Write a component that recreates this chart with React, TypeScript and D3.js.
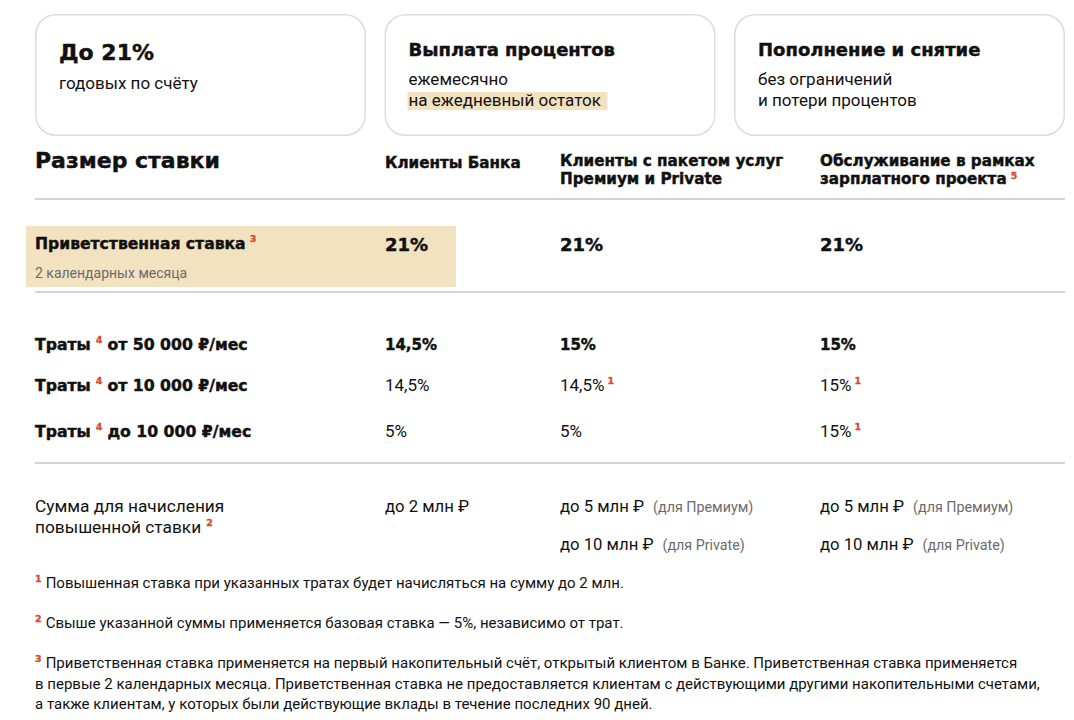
import * as d3 from 'd3'

// --- data ---------------------------------------------------------------
const cardTitles = ['До 21%', 'Выплата процентов', 'Пополнение и снятие']
const cardLines = [
  ['годовых по счёту'],
  ['ежемесячно', 'на ежедневный остаток'],
  ['без ограничений', 'и потери процентов'],
]
const cardMarked = [-1, 1, -1] // which line gets the beige marker

const columnKeys = ['label', 'bank', 'premium', 'salary']
const columnHeaders = [
  ['Клиенты Банка'],
  ['Клиенты с пакетом услуг', 'Премиум и Private'],
  ['Обслуживание в рамках', 'зарплатного проекта'],
]
const headerNotes = ['', '', '5']

const welcomeLabel = 'Приветственная ставка'
const welcomeNote = '3'
const welcomeTerm = '2 календарных месяца'
const welcomeRates = ['21%', '21%', '21%']

const spendPrefix = 'Траты'
const spendNote = '4'
const spendLabels = ['от 50 000 ₽/мес', 'от 10 000 ₽/мес', 'до 10 000 ₽/мес']
const spendRates = [
  ['14,5%', '15%', '15%'],
  ['14,5%', '14,5%', '15%'],
  ['5%', '5%', '15%'],
]
const spendNotes = [
  ['', '', ''],
  ['', '1', '1'],
  ['', '', '1'],
]

const sumLabel = ['Сумма для начисления', 'повышенной ставки']
const sumNote = '2'
const sumLimits = [
  [['до 2 млн ₽', '']],
  [['до 5 млн ₽', '(для Премиум)'], ['до 10 млн ₽', '(для Private)']],
  [['до 5 млн ₽', '(для Премиум)'], ['до 10 млн ₽', '(для Private)']],
]

const footnoteMarks = ['1', '2', '3']
const footnoteLines = [
  ['Повышенная ставка при указанных тратах будет начисляться на сумму до 2 млн.'],
  ['Свыше указанной суммы применяется базовая ставка — 5%, независимо от трат.'],
  [
    'Приветственная ставка применяется на первый накопительный счёт, открытый клиентом в Банке. Приветственная ставка применяется',
    'в первые 2 календарных месяца. Приветственная ставка не предоставляется клиентам с действующими другими накопительными счетами,',
    'а также клиентам, у которых были действующие вклады в течение последних 90 дней.',
  ],
]

// --- styles -------------------------------------------------------------
const W = 1074
const H = 720
const BOLD = '"DejaVu Sans", sans-serif'
const REG = 'Roboto, "Noto Sans", sans-serif'
const INK = '#111'
const GREY = '#6b6b6b'
const RED = '#d9482b'
const RULE = '#d4d4d4'
const MARK = '#f3e2c0'

// heavier look for the bold face
const heavy = { fontFamily: BOLD, fontWeight: 700, fill: INK, stroke: INK, strokeWidth: 0.45 }

const Sup = ({ t, dx = 0, dy = -7 }: { t: string; dx?: number; dy?: number }) =>
  t ? (
    <tspan dx={dx} dy={dy} fontSize={9.5} fontFamily={BOLD} fontWeight={700} fill={RED} stroke={RED} strokeWidth={0.3}>
      {t}
    </tspan>
  ) : null

export default function App() {
  // cards
  const cardX = d3.scaleBand<number>().domain(d3.range(3)).range([35, 1065]).paddingInner(0.053)

  // table columns
  const colX = d3.scaleOrdinal<string, number>().domain(columnKeys).range([35, 385, 560, 820])

  // row baselines
  const spendY = d3.scaleOrdinal<string, number>().domain(spendLabels).range([350, 391, 437])
  const sumY = d3.scalePoint<number>().domain([0, 1]).range([512, 550])
  const footY = d3.scaleOrdinal<number, number>().domain([0, 1, 2]).range([588, 628, 668])
  const lineStep = 20.5

  const rules = [199, 292, 463]

  return (
    <svg
      width={W}
      height={H}
      style={{ position: 'absolute', left: 0, top: 0, background: '#fff' }}
    >
      <rect width={W} height={H} fill="#fff" />

      {/* feature cards */}
      {cardTitles.map((title, i) => {
        const x = cardX(i) as number
        return (
          <g key={title}>
            <rect
              x={x + 0.75}
              y={14.75}
              width={cardX.bandwidth() - 1.5}
              height={120.5}
              rx={20}
              fill="#fff"
              stroke="#dcdcdc"
              strokeWidth={1.5}
            />
            {cardLines[i].map((line, j) =>
              cardMarked[i] === j ? (
                <rect key={'m' + j} x={x + 23} y={92} width={200} height={18} fill={MARK} />
              ) : null
            )}
            <text x={x + 24} y={i === 0 ? 60 : 56} fontSize={i === 0 ? 22 : 18} {...heavy}>
              {title}
            </text>
            {cardLines[i].map((line, j) => (
              <text
                key={line}
                x={x + 24}
                y={(i === 0 ? 89 : 85) + j * 21}
                fontFamily={REG}
                fontSize={17}
                fill={INK}
              >
                {line}
              </text>
            ))}
          </g>
        )
      })}

      {/* table header */}
      <text x={colX('label')} y={168} fontSize={22} {...heavy}>
        Размер ставки
      </text>
      {columnHeaders.map((lines, i) => (
        <g key={columnKeys[i + 1]}>
          {lines.map((line, j) => (
            <text
              key={line}
              x={colX(columnKeys[i + 1])}
              y={(lines.length === 1 ? 168 : 166) + j * 17.5}
              fontSize={15.2}
              {...heavy}
            >
              <tspan>{line}</tspan>
              {j === lines.length - 1 && <Sup t={headerNotes[i]} dx={4} dy={-5} />}
            </text>
          ))}
        </g>
      ))}

      {rules.map((y) => (
        <line key={y} x1={35} x2={1065} y1={y} y2={y} stroke={RULE} strokeWidth={2} />
      ))}

      {/* welcome rate */}
      <rect x={26} y={226} width={430} height={61} fill={MARK} />
      <text x={colX('label')} y={249} fontSize={15.6} {...heavy}>
        <tspan>{welcomeLabel}</tspan>
        <Sup t={welcomeNote} dx={4} />
      </text>
      <text x={colX('label')} y={278} fontFamily={REG} fontSize={14} fill={GREY}>
        {welcomeTerm}
      </text>
      {welcomeRates.map((r, i) => (
        <text key={columnKeys[i + 1]} x={colX(columnKeys[i + 1])} y={251} fontSize={18} {...heavy}>
          {r}
        </text>
      ))}

      {/* spending tiers */}
      {spendLabels.map((label, k) => (
        <g key={label}>
          <text x={colX('label')} y={spendY(label)} fontSize={15.7} {...heavy}>
            <tspan>{spendPrefix}</tspan>
            <Sup t={spendNote} dx={5} />
            <tspan dx={5} dy={7}>
              {label}
            </tspan>
          </text>
          {spendRates[k].map((r, i) =>
            k === 0 ? (
              <text key={columnKeys[i + 1]} x={colX(columnKeys[i + 1])} y={spendY(label)} fontSize={15} {...heavy}>
                {r}
              </text>
            ) : (
              <text
                key={columnKeys[i + 1]}
                x={colX(columnKeys[i + 1])}
                y={spendY(label)}
                fontFamily={REG}
                fontSize={17}
                fill={INK}
              >
                <tspan>{r}</tspan>
                <Sup t={spendNotes[k][i]} dx={3} />
              </text>
            )
          )}
        </g>
      ))}

      {/* amount limits */}
      {sumLabel.map((line, j) => (
        <text
          key={line}
          x={colX('label')}
          y={512 + j * 21}
          fontFamily={REG}
          fontSize={17.3}
          fill={INK}
        >
          <tspan>{line}</tspan>
          {j === sumLabel.length - 1 && <Sup t={sumNote} dx={5} />}
        </text>
      ))}
      {sumLimits.map((items, i) =>
        items.map(([amount, note], j) => (
          <text
            key={columnKeys[i + 1] + j}
            x={colX(columnKeys[i + 1])}
            y={sumY(j)}
            fontFamily={REG}
            fontSize={16.7}
            fill={INK}
          >
            <tspan>{amount}</tspan>
            {note && (
              <tspan dx={9} fontSize={14.3} fill={GREY}>
                {note}
              </tspan>
            )}
          </text>
        ))
      )}

      {/* footnotes */}
      {footnoteLines.map((lines, f) =>
        lines.map((line, j) => (
          <text
            key={f + '-' + j}
            x={colX('label')}
            y={(footY(f) as number) + j * lineStep}
            fontFamily={REG}
            fontSize={15}
            fill={INK}
          >
            {j === 0 && (
              <tspan fontFamily={BOLD} fontWeight={700} fontSize={9.5} fill={RED} stroke={RED} strokeWidth={0.3} dy={-6}>
                {footnoteMarks[f]}
              </tspan>
            )}
            <tspan dx={j === 0 ? 4 : 0} dy={j === 0 ? 6 : 0}>
              {line}
            </tspan>
          </text>
        ))
      )}
    </svg>
  )
}
